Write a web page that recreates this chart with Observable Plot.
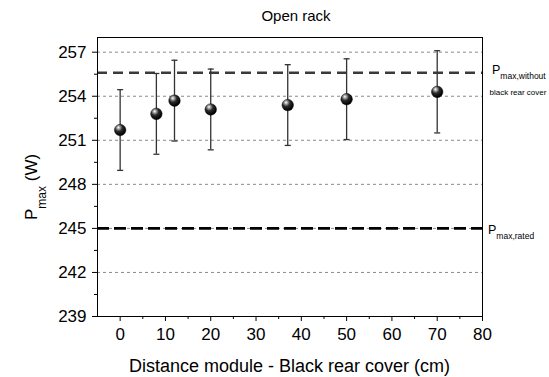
<!DOCTYPE html>
<html>
<head>
<meta charset="utf-8">
<script src="https://cdn.jsdelivr.net/npm/d3@7"></script>
<script src="https://cdn.jsdelivr.net/npm/@observablehq/plot@0.6"></script>
<style>
  body { margin: 0; background: #fff; }
  #chart svg { display: block; }
</style>
</head>
<body>
<div id="chart"></div>
<script>
// Measured maximum power vs. distance between module and black rear cover (open rack)
const distances = [0, 8, 12, 20, 37, 50, 70];            // cm
const pmax = [251.7, 252.8, 253.7, 253.1, 253.4, 253.8, 254.3]; // W
const pmaxError = [2.75, 2.75, 2.75, 2.75, 2.75, 2.75, 2.8];    // W

// Reference levels
const pmaxWithoutCover = 255.6;
const pmaxRated = 245;

// Axis ticks
const xTicks = [0, 10, 20, 30, 40, 50, 60, 70, 80];
const xMinorTicks = [5, 15, 25, 35, 45, 55, 65, 75];
const yTicks = [239, 242, 245, 248, 251, 254, 257];
const yMinorTicks = [240.5, 243.5, 246.5, 249.5, 252.5, 255.5];
const yGrid = [242, 245, 248, 251, 254, 257];

const rows = distances.map((d, i) => ({distance: d, pmax: pmax[i], err: pmaxError[i]}));

// Horizontal cap for the error bars
const capSymbol = {
  draw(context, size) {
    const w = Math.sqrt(size);
    context.moveTo(-w / 2, 0);
    context.lineTo(w / 2, 0);
  }
};

const font = "Arial, 'Liberation Sans', Helvetica, sans-serif";

const plot = Plot.plot({
  width: 549,
  height: 377,
  marginLeft: 97,
  marginRight: 67,
  marginTop: 37,
  marginBottom: 61,
  style: {fontFamily: font, fontSize: "17px", color: "#000", background: "#fff"},
  x: {domain: [-5, 80]},
  y: {domain: [239, 258]},
  marks: [
    Plot.ruleY(yGrid, {stroke: "#8a8a8a", strokeWidth: 1, strokeDasharray: "3,3"}),
    Plot.ruleY([pmaxWithoutCover], {stroke: "#3a3a3a", strokeWidth: 2.6, strokeDasharray: "10,6"}),
    Plot.ruleY([pmaxRated], {stroke: "#000", strokeWidth: 2.6, strokeDasharray: "12,5"}),
    Plot.ruleX(rows, {x: "distance", y1: d => d.pmax - d.err, y2: d => d.pmax + d.err, stroke: "#333", strokeWidth: 1.3}),
    Plot.dot(rows, {x: "distance", y: d => d.pmax + d.err, symbol: capSymbol, r: 3.4, fill: "none", stroke: "#333", strokeWidth: 1.3}),
    Plot.dot(rows, {x: "distance", y: d => d.pmax - d.err, symbol: capSymbol, r: 3.4, fill: "none", stroke: "#333", strokeWidth: 1.3}),
    Plot.dot(rows, {x: "distance", y: "pmax", r: 5.8, fill: "url(#sphere)", stroke: "#000", strokeWidth: 0.4}),
    Plot.frame({stroke: "#000", strokeWidth: 1}),
    Plot.axisY({ticks: yTicks, tickSize: 5, tickPadding: 6, fontSize: 17, label: null, stroke: "#000"}),
    Plot.axisY({ticks: yMinorTicks, tickSize: 3, text: null, label: null, stroke: "#000"}),
    Plot.axisX({ticks: xTicks, tickSize: 5, tickPadding: 6, fontSize: 17, label: null, stroke: "#000"}),
    Plot.axisX({ticks: xMinorTicks, tickSize: 3, text: null, label: null, stroke: "#000"})
  ]
});

const svg = d3.select(plot);
const x = plot.scale("x");
const y = plot.scale("y");

// Shaded ball markers
const grad = svg.insert("defs", ":first-child")
  .append("radialGradient")
  .attr("id", "sphere")
  .attr("cx", "38%").attr("cy", "32%").attr("r", "65%")
  .attr("fx", "35%").attr("fy", "28%");
grad.append("stop").attr("offset", "0%").attr("stop-color", "#ffffff");
grad.append("stop").attr("offset", "18%").attr("stop-color", "#b0b0b0");
grad.append("stop").attr("offset", "50%").attr("stop-color", "#2a2a2a");
grad.append("stop").attr("offset", "100%").attr("stop-color", "#000000");

const text = svg.append("g")
  .attr("font-family", font)
  .attr("fill", "#000");

// Title
text.append("text")
  .attr("x", 296).attr("y", 20.5)
  .attr("text-anchor", "middle")
  .attr("font-size", 15)
  .text("Open rack");

// X axis title
const xMid = (x.apply(-5) + x.apply(80)) / 2;
text.append("text")
  .attr("x", xMid).attr("y", 371.5)
  .attr("text-anchor", "middle")
  .attr("font-size", 18)
  .text("Distance module - Black rear cover (cm)");

// Y axis title with subscript
const yl = text.append("text")
  .attr("transform", "translate(37,220) rotate(-90)")
  .attr("text-anchor", "start")
  .attr("font-size", 17);
yl.append("tspan").text("P");
yl.append("tspan").attr("font-size", 12).attr("dy", 9).text("max");
yl.append("tspan").attr("dy", -9).text(" (W)");

// Labels of the reference levels
const xr = x.apply(80);
const yw = y.apply(pmaxWithoutCover);
const l1 = text.append("text").attr("x", xr + 10).attr("y", yw + 1.5)
  .attr("text-anchor", "start").attr("font-size", 12.5);
l1.append("tspan").text("P");
l1.append("tspan").attr("font-size", 8.5).attr("dy", 5).text("max,without");
text.append("text").attr("x", xr + 7.5).attr("y", yw + 22.5)
  .attr("text-anchor", "start").attr("font-size", 8).text("black rear cover");

const yr = y.apply(pmaxRated);
const l2 = text.append("text").attr("x", xr + 6).attr("y", yr + 6)
  .attr("text-anchor", "start").attr("font-size", 12.5);
l2.append("tspan").text("P");
l2.append("tspan").attr("font-size", 8.5).attr("dy", 5).text("max,rated");

document.getElementById("chart").appendChild(plot);
</script>
</body>
</html>
